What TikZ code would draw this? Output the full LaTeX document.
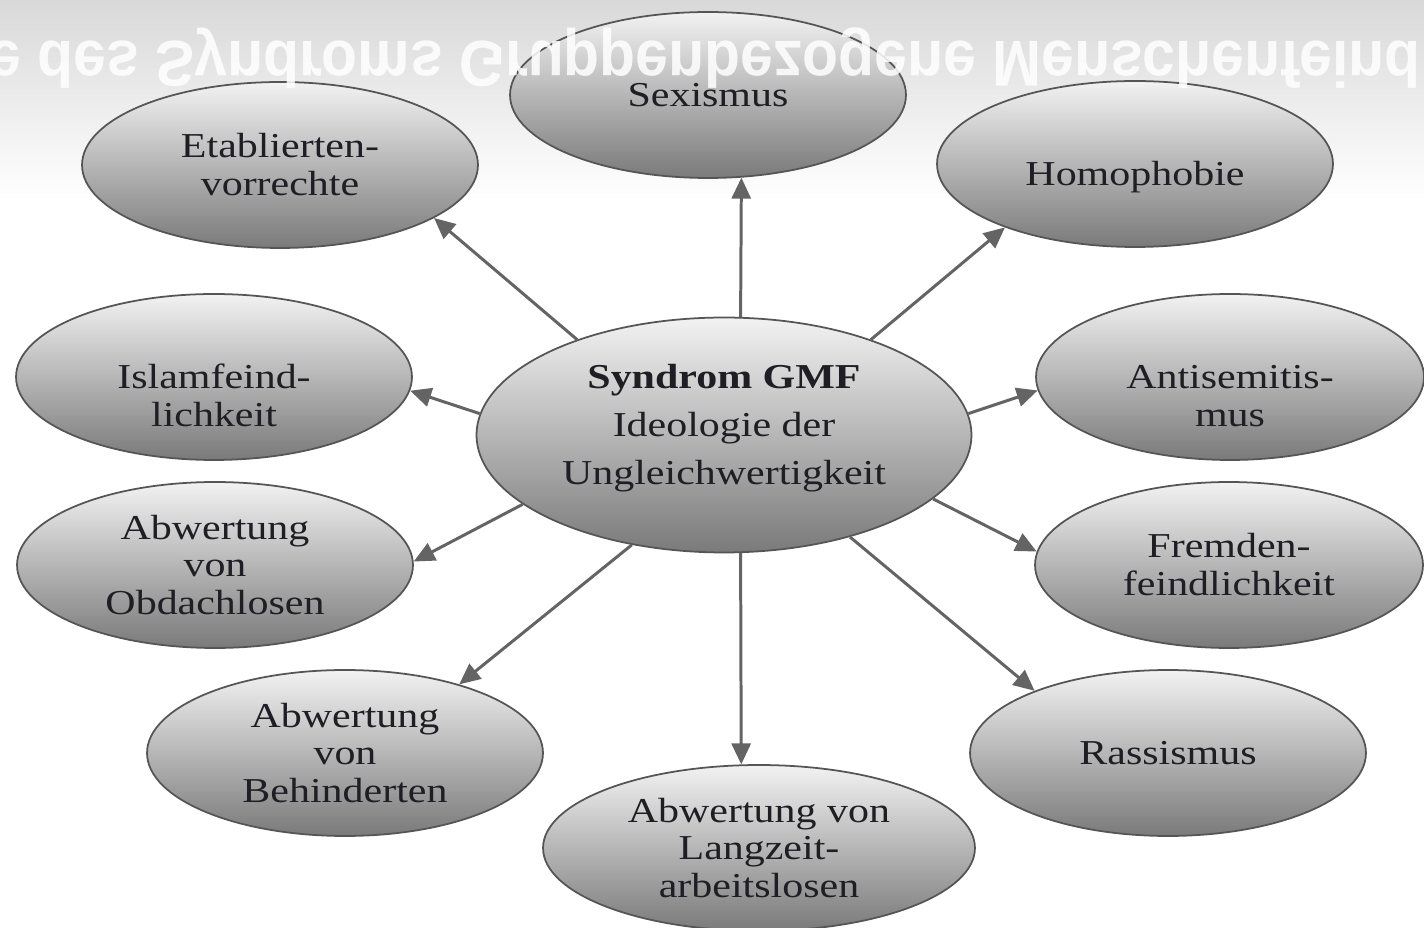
\documentclass[tikz,border=0pt]{standalone}
\usepackage{fontspec}
\setmainfont{Liberation Serif}
\newfontfamily\ellfont[FakeStretch=1.2]{Liberation Serif}
\newfontfamily\titelfont{Liberation Sans}
\usetikzlibrary{shapes.geometric,arrows.meta}
\definecolor{ellTop}{RGB}{242,242,242}
\definecolor{ellBot}{RGB}{122,122,122}
\definecolor{ellRand}{RGB}{85,85,85}
\definecolor{pfeilgrau}{RGB}{100,100,100}
\definecolor{bandgrau}{RGB}{205,205,205}
\definecolor{schrift}{RGB}{30,30,36}
\tikzset{
  merkmal/.style={
    ellipse,
    draw=ellRand,
    line width=1pt,
    top color=ellTop,
    bottom color=ellBot,
    minimum width=7.92cm,
    minimum height=3.32cm,
    inner sep=0pt,
    align=center,
    text=schrift,
    font=\ellfont\fontsize{19.9}{21.6}\selectfont
  },
  pfeil/.style={
    draw=pfeilgrau,
    line width=1.7pt,
    -{Triangle[length=0.42cm,width=0.38cm]}
  }
}
% Text in der Ellipse etwas tiefer bzw. hoeher setzen
\newcommand{\tiefer}[1]{\rule{0pt}{#1}}
\newcommand{\hoeher}[1]{\rule[-#1]{0pt}{#1}}

\begin{document}
\begin{tikzpicture}[x=0.02cm,y=-0.02cm]
\useasboundingbox (0,0) rectangle (1424,928);
\clip (0,0) rectangle (1424,928);
\fill[white] (0,0) rectangle (1424,928);
\shade[top color=bandgrau, bottom color=white] (0,-60) rectangle (1424,200);

% Zentrum
\node[merkmal, minimum width=9.9cm, minimum height=4.7cm, font=\ellfont\fontsize{19.9}{27.2}\selectfont] (gmf) at (724,435) {\textbf{Syndrom GMF}\\Ideologie der\\Ungleichwertigkeit\hoeher{12.3pt}};

% Elemente
\node[merkmal] (sexismus) at (708,95) {Sexismus};
\node[merkmal] (etabliert) at (280,165) {Etablierten-\\vorrechte};
\node[merkmal] (homophobie) at (1135,164) {\tiefer{28.4pt}Homophobie};
\node[merkmal] (islam) at (214,377) {\tiefer{35pt}Islamfeind-\\lichkeit};
\node[merkmal, minimum width=7.76cm] (antisem) at (1230,377) {\tiefer{35pt}Antisemitis-\\mus};
\node[merkmal] (obdach) at (215,565) {Abwertung\\von\\Obdachlosen};
\node[merkmal, minimum width=7.76cm] (fremden) at (1229,565) {Fremden-\\feindlichkeit};
\node[merkmal] (behind) at (345,753) {Abwertung\\von\\Behinderten};
\node[merkmal] (rassismus) at (1168,753) {Rassismus};
\node[merkmal, minimum width=8.64cm] (langzeit) at (759,848) {Abwertung von\\Langzeit-\\arbeitslosen};

\foreach \ziel/\von/\nach in {etabliert/147/341, sexismus/82/292, homophobie/33/206, antisem/5/184, fremden/343/176, rassismus/321/155, langzeit/278/102, behind/230/31, obdach/199/1, islam/175/356}{
\draw[pfeil] (gmf.\von) -- (\ziel.\nach);
}

% gespiegelter Titel
\node[anchor=base west, inner sep=0pt, text=white, text opacity=0.85, font=\titelfont\bfseries\fontsize{33.5}{33.5}\selectfont] (titel) at (-12,42) {\scalebox{1}[-1.1]{e des Syndroms Gruppenbezogene Menschenfeind}};

\end{tikzpicture}
\end{document}
